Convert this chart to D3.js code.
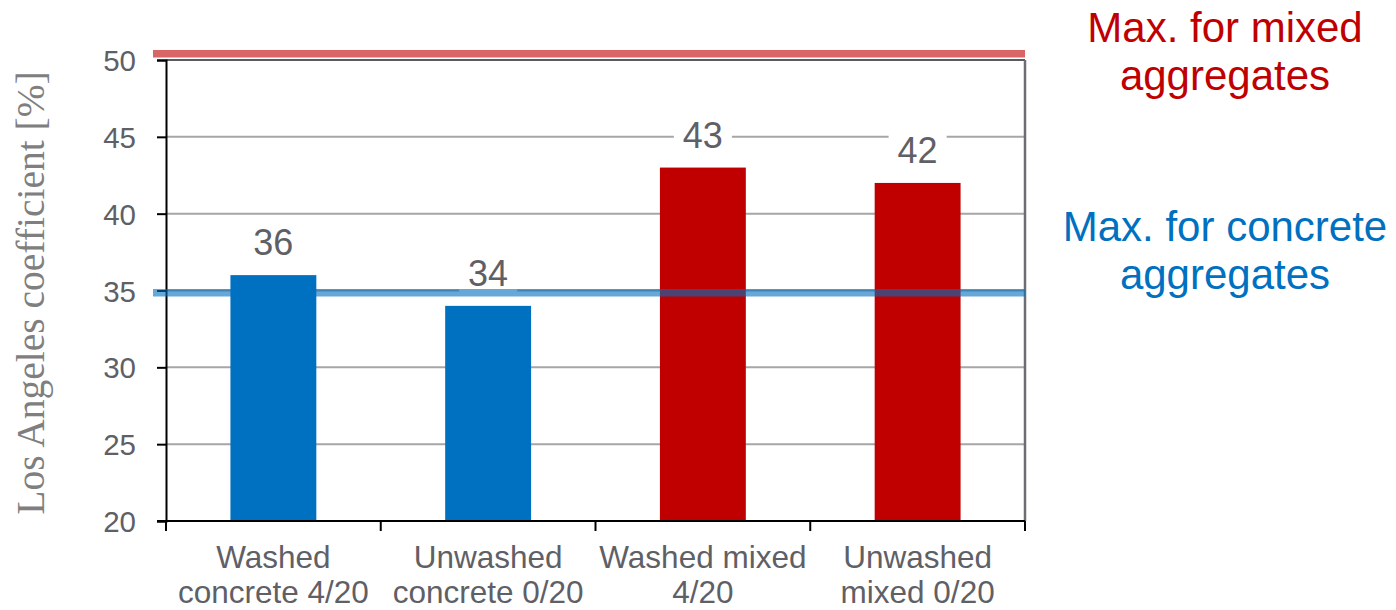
<!DOCTYPE html>
<html><head><meta charset="utf-8">
<script src="https://cdn.jsdelivr.net/npm/d3@7"></script>
<style>html,body{margin:0;padding:0;background:#fff;}svg{display:block;}</style>
</head><body>
<svg id="chart" width="1396" height="610"></svg>
<script>
const categories = [["Washed","concrete 4/20"],["Unwashed","concrete 0/20"],["Washed mixed","4/20"],["Unwashed","mixed 0/20"]];
const values = [36, 34, 43, 42];
const barColors = ["#0070c0","#0070c0","#c00000","#c00000"];
const yTicks = [20, 25, 30, 35, 40, 45, 50];
const refValues = [34.85, 50.4];
const refColors = ["#0070c0", "#c00000"];
const refLabels = [["Max. for concrete","aggregates"],["Max. for mixed","aggregates"]];
const yTitle = "Los Angeles coefficient [%]";

const svg = d3.select("#chart");
const L = 166, R = 1025, T = 60, B = 521;
const x = d3.scaleBand().domain(d3.range(categories.length)).range([L, R]).paddingInner(0.6).paddingOuter(0.3);
const xb = d3.scaleBand().domain(d3.range(categories.length)).range([L, R]);
const y = d3.scaleLinear().domain([20, 50]).range([B, T]);
const grey = "#5f6066";
const font = "Liberation Sans, Arial, sans-serif";

// gridlines
svg.append("g").selectAll("line").data(yTicks.filter(t => t > 20 && t < 50)).join("line")
  .attr("x1", L).attr("x2", R).attr("y1", d => y(d)).attr("y2", d => y(d))
  .attr("stroke", "#a6a6a6").attr("stroke-width", 2);

// top and right border
svg.append("line").attr("x1", L).attr("x2", R).attr("y1", y(50)).attr("y2", y(50)).attr("stroke", "#595a5e").attr("stroke-width", 2);
svg.append("line").attr("x1", R).attr("x2", R).attr("y1", y(50)).attr("y2", y(20)).attr("stroke", "#6d6e73").attr("stroke-width", 2.5);

// bars
svg.append("g").selectAll("rect").data(values).join("rect")
  .attr("x", (d, i) => x(i)).attr("width", x.bandwidth())
  .attr("y", d => y(d)).attr("height", d => y(20) - y(d))
  .attr("fill", (d, i) => barColors[i]);

// data labels with white background
const lg = svg.append("g");
values.forEach((v, i) => {
  const cx = x(i) + x.bandwidth() / 2, by = y(v) - 20;
  const t = lg.append("text").attr("x", cx).attr("y", by).attr("text-anchor", "middle")
    .attr("font-family", font).attr("font-size", 36).attr("fill", grey).text(v);
  const w = t.node().getComputedTextLength();
  lg.insert("rect", "text").attr("x", cx - w / 2 - 9).attr("y", by - 30).attr("width", w + 18).attr("height", 36).attr("fill", "#fff");
});

// axes
const yAxis = d3.axisLeft(y).tickValues(yTicks).tickSize(9).tickPadding(21);
const ya = svg.append("g").attr("transform", `translate(${L},0)`).call(yAxis);
ya.select(".domain").attr("stroke", "#000").attr("stroke-width", 2);
ya.selectAll(".tick line").attr("stroke", "#000").attr("stroke-width", 2);
ya.selectAll(".tick text").attr("font-family", font).attr("font-size", 29.5).attr("fill", grey).attr("dy", "0.36em");

const xg = svg.append("g");
xg.append("line").attr("x1", L - 9).attr("x2", R).attr("y1", B).attr("y2", B).attr("stroke", "#000").attr("stroke-width", 2);
xg.selectAll("line.tk").data(d3.range(categories.length + 1)).join("line").attr("class", "tk")
  .attr("x1", i => i < categories.length ? xb(i) : R).attr("x2", i => i < categories.length ? xb(i) : R)
  .attr("y1", B).attr("y2", B + 10).attr("stroke", "#000").attr("stroke-width", 2);
categories.forEach((c, i) => {
  const t = xg.append("text").attr("x", x(i) + x.bandwidth() / 2).attr("y", 568).attr("text-anchor", "middle")
    .attr("font-family", font).attr("font-size", 31.5).attr("fill", grey);
  c.forEach((line, j) => t.append("tspan").attr("x", x(i) + x.bandwidth() / 2).attr("y", 568 + j * 35).text(line));
});

// reference bands
refValues.forEach((v, i) => {
  svg.append("line").attr("x1", 153).attr("x2", R).attr("y1", y(v)).attr("y2", y(v))
    .attr("stroke", refColors[i]).attr("stroke-opacity", 0.6).attr("stroke-width", 7.5);
});

// reference labels
const refBase = [241, 42];
refLabels.forEach((lines, i) => {
  const t = svg.append("text").attr("text-anchor", "middle").attr("font-family", font).attr("font-size", 42).attr("fill", refColors[i]);
  lines.forEach((line, j) => t.append("tspan").attr("x", 1225).attr("y", refBase[i] + j * 48).text(line));
});

// y title
svg.append("text").attr("transform", "translate(44,293) rotate(-90)").attr("text-anchor", "middle")
  .attr("font-family", "Liberation Serif, Times New Roman, serif").attr("font-size", 39.5).attr("fill", "#7f7f7f").text(yTitle);
</script>
</body></html>
